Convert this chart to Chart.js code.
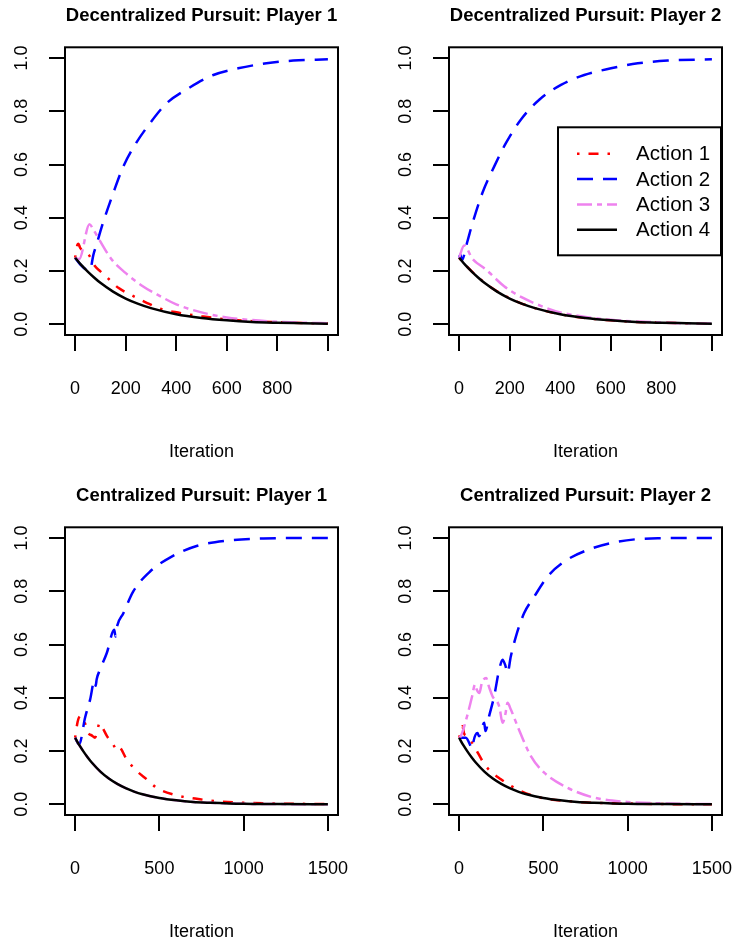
<!DOCTYPE html>
<html>
<head>
<meta charset="utf-8">
<script src="https://cdn.jsdelivr.net/npm/chart.js@4.4.0/dist/chart.umd.min.js"></script>
<style>
  body { margin: 0; background: #fff; width: 736px; height: 941px; position: relative; overflow: hidden; }
  canvas { position: absolute; }
</style>
</head>
<body>
<canvas id="dec1" width="352" height="461" style="left:0;top:0"></canvas>
<canvas id="dec2" width="352" height="461" style="left:384px;top:0"></canvas>
<canvas id="cen1" width="352" height="461" style="left:0;top:480px"></canvas>
<canvas id="cen2" width="352" height="461" style="left:384px;top:480px"></canvas>
<script>
const actionLabels = ["Action 1", "Action 2", "Action 3", "Action 4"];
const yTicks = [0, 0.2, 0.4, 0.6, 0.8, 1.0];
const yTickLabels = ["0.0", "0.2", "0.4", "0.6", "0.8", "1.0"];
const decTicks = [0, 200, 400, 600, 800, 1000];
const decTickLabels = ["0", "200", "400", "600", "800", ""];
const cenTicks = [0, 500, 1000, 1500];
const cenTickLabels = ["0", "500", "1000", "1500"];

// Decentralized pursuit, player 1
const dec1Iter1 = [0, 9, 13, 20, 35, 53, 79, 99, 132, 171, 224, 283, 336, 395, 500, 600, 700, 800, 900, 1000];
const dec1Act1 = [0.25, 0.298, 0.303, 0.287, 0.274, 0.262, 0.218, 0.2, 0.171, 0.137, 0.109, 0.081, 0.059, 0.046, 0.03, 0.019, 0.012, 0.008, 0.005, 0.003];
const dec1Iter2 = [0, 20, 45, 59, 72, 88, 105, 151, 191, 237, 296, 362, 448, 547, 645, 757, 863, 1000];
const dec1Act2 = [0.25, 0.225, 0.205, 0.203, 0.26, 0.31, 0.365, 0.493, 0.593, 0.674, 0.755, 0.83, 0.886, 0.936, 0.961, 0.98, 0.99, 0.995];
const dec1Iter3 = [0, 16, 57, 72, 99, 145, 198, 263, 336, 400, 500, 600, 700, 800, 900, 1000];
const dec1Act3 = [0.25, 0.245, 0.376, 0.356, 0.312, 0.243, 0.194, 0.146, 0.106, 0.075, 0.045, 0.026, 0.016, 0.01, 0.006, 0.004];
const decIter4 = [0, 25, 50, 75, 100, 150, 200, 250, 300, 400, 500, 600, 700, 800, 900, 1000];
const dec1Act4 = [0.25, 0.222, 0.198, 0.176, 0.156, 0.123, 0.097, 0.077, 0.061, 0.038, 0.024, 0.015, 0.009, 0.006, 0.004, 0.002];

// Decentralized pursuit, player 2
const dec2Act1 = [0.25, 0.223, 0.199, 0.177, 0.157, 0.124, 0.098, 0.077, 0.061, 0.038, 0.024, 0.015, 0.009, 0.006, 0.004, 0.002];
const dec2Iter2 = [0, 5, 10, 33, 50, 92, 139, 185, 244, 317, 403, 495, 601, 707, 826, 1000];
const dec2Act2 = [0.25, 0.262, 0.24, 0.312, 0.37, 0.493, 0.593, 0.68, 0.768, 0.843, 0.899, 0.936, 0.961, 0.98, 0.99, 0.995];
const dec2Iter3 = [0, 20, 53, 106, 178, 251, 344, 400, 500, 600, 700, 800, 900, 1000];
const dec2Act3 = [0.25, 0.296, 0.246, 0.206, 0.143, 0.1, 0.062, 0.045, 0.028, 0.017, 0.011, 0.007, 0.004, 0.003];
const dec2Act4 = [0.25, 0.222, 0.198, 0.176, 0.156, 0.123, 0.097, 0.077, 0.061, 0.038, 0.024, 0.015, 0.009, 0.006, 0.004, 0.002];

// Centralized pursuit, player 1
const cen1Iter1 = [0, 15, 30, 55, 79, 100, 118, 130, 145, 165, 190, 230, 245, 260, 306, 366, 425, 484, 583, 741, 840, 1000, 1200, 1500];
const cen1Act1 = [0.25, 0.31, 0.331, 0.31, 0.268, 0.258, 0.25, 0.272, 0.305, 0.285, 0.255, 0.22, 0.205, 0.215, 0.169, 0.125, 0.094, 0.062, 0.037, 0.019, 0.012, 0.006, 0.003, 0.001];
const cen1Iter2 = [0, 24, 59, 89, 115, 122, 128, 148, 188, 232, 240, 246, 287, 346, 445, 573, 721, 899, 1117, 1300, 1500];
const cen1Act2 = [0.25, 0.225, 0.325, 0.393, 0.465, 0.445, 0.47, 0.506, 0.568, 0.655, 0.63, 0.66, 0.718, 0.8, 0.874, 0.93, 0.97, 0.99, 0.998, 1.0, 1.0];
const cenIter4 = [0, 25, 50, 75, 100, 150, 200, 250, 300, 350, 400, 500, 600, 700, 800, 1000, 1200, 1500];
const cen1Act3 = [0.25, 0.222, 0.198, 0.176, 0.156, 0.123, 0.097, 0.077, 0.061, 0.048, 0.038, 0.024, 0.015, 0.009, 0.006, 0.002, 0.001, 0.0];
const cen1Act4 = [0.25, 0.222, 0.198, 0.176, 0.156, 0.123, 0.097, 0.077, 0.061, 0.048, 0.038, 0.024, 0.015, 0.009, 0.006, 0.002, 0.001, 0.0];

// Centralized pursuit, player 2
const cen2Iter1 = [0, 10, 20, 30, 50, 89, 158, 248, 367, 485, 644, 800, 1000, 1200, 1500];
const cen2Act1 = [0.25, 0.27, 0.293, 0.265, 0.256, 0.218, 0.144, 0.094, 0.05, 0.025, 0.012, 0.006, 0.003, 0.001, 0.0];
const cen2Iter2 = [0, 40, 80, 85, 109, 118, 149, 156, 178, 208, 238, 258, 275, 287, 307, 337, 386, 446, 525, 624, 763, 941, 1179, 1500];
const cen2Act2 = [0.25, 0.25, 0.21, 0.235, 0.268, 0.256, 0.306, 0.275, 0.331, 0.406, 0.506, 0.543, 0.52, 0.493, 0.556, 0.63, 0.718, 0.78, 0.855, 0.911, 0.955, 0.986, 0.999, 1.0];
const cen2Iter3 = [0, 10, 50, 75, 95, 105, 120, 135, 160, 178, 198, 238, 258, 275, 287, 307, 347, 426, 505, 644, 802, 1000, 1238, 1500];
const cen2Act3 = [0.25, 0.256, 0.337, 0.4, 0.45, 0.43, 0.418, 0.456, 0.474, 0.44, 0.406, 0.368, 0.306, 0.34, 0.381, 0.356, 0.293, 0.181, 0.119, 0.062, 0.025, 0.009, 0.003, 0.001];
const cen2Act4 = [0.25, 0.222, 0.198, 0.176, 0.156, 0.123, 0.097, 0.077, 0.061, 0.048, 0.038, 0.024, 0.015, 0.009, 0.006, 0.002, 0.001, 0.0];

const colors = ["#ff0000", "#0000ff", "#ee82ee", "#000000"];
const dashes = [[2.5, 9, 10, 9], [16, 10], [15, 5, 5, 5], []];
const FONT = "'Liberation Sans', Arial, Helvetica, sans-serif";

const pts = (xs, ys) => xs.map((x, i) => ({ x: x, y: ys[i] }));

// box round the plot region, like R's box()
const framePlugin = {
  id: "frame",
  afterDraw(chart) {
    const { ctx, chartArea: a } = chart;
    ctx.save();
    ctx.strokeStyle = "#000";
    ctx.lineWidth = 2;
    ctx.strokeRect(a.left, a.top, a.right - a.left, a.bottom - a.top);
    ctx.restore();
  }
};

// R style legend with line samples
const rLegend = {
  id: "rLegend",
  afterDraw(chart, args, opts) {
    if (!opts.show) return;
    const { ctx, chartArea: a } = chart;
    const w = 163, h = 128;
    const left = a.right - w - 1, top = a.top + 80;
    ctx.save();
    ctx.fillStyle = "#fff";
    ctx.fillRect(left, top, w, h);
    ctx.strokeStyle = "#000";
    ctx.lineWidth = 2;
    ctx.strokeRect(left, top, w, h);
    ctx.font = "20.5px " + FONT;
    ctx.textBaseline = "middle";
    ctx.textAlign = "left";
    chart.data.datasets.forEach((ds, i) => {
      const y = top + 26.5 + i * 25.3;
      ctx.beginPath();
      ctx.setLineDash(ds.borderDash);
      ctx.strokeStyle = ds.borderColor;
      ctx.lineWidth = 2.5;
      ctx.moveTo(left + 19, y);
      ctx.lineTo(left + 59, y);
      ctx.stroke();
      ctx.setLineDash([]);
      ctx.fillStyle = "#000";
      ctx.fillText(ds.label, left + 78, y + 1);
    });
    ctx.restore();
  }
};

function makePanel(id, title, series, xTicks, xLabels, xMax, showLegend) {
  const pad = xMax * 0.04;
  new Chart(document.getElementById(id), {
    type: "line",
    data: {
      datasets: series.map((s, i) => ({
        label: actionLabels[i],
        data: pts(s[0], s[1]),
        borderColor: colors[i],
        borderDash: dashes[i],
        borderWidth: 2.5,
        pointRadius: 0,
        fill: false,
        cubicInterpolationMode: "monotone",
        order: 4 - i
      }))
    },
    options: {
      responsive: false,
      animation: false,
      devicePixelRatio: 1,
      layout: { padding: { left: 0, right: 14, top: 0, bottom: 0 }, autoPadding: false },
      plugins: {
        legend: { display: false },
        tooltip: { enabled: false },
        title: {
          display: true,
          text: title,
          fullSize: false,
          color: "#000",
          font: { family: FONT, size: 18.5, weight: "bold" },
          padding: { top: 5, bottom: 20.1 }
        },
        rLegend: { show: showLegend }
      },
      scales: {
        x: {
          type: "linear",
          min: -pad,
          max: xMax + pad,
          afterBuildTicks: s => { s.ticks = xTicks.map(v => ({ value: v })); },
          afterFit: s => { s.height = 126; s.paddingLeft = 0; s.paddingRight = 0; },
          border: { display: false },
          grid: { display: true, drawOnChartArea: false, drawTicks: true, tickLength: 16, color: "#000", lineWidth: 2 },
          ticks: {
            autoSkip: false, maxRotation: 0, padding: 27, color: "#000",
            font: { family: FONT, size: 18 },
            callback: (v, i) => xLabels[i]
          },
          title: { display: true, text: "Iteration", color: "#000", font: { family: FONT, size: 18 }, padding: { top: 0, bottom: -2 } }
        },
        y: {
          type: "linear",
          min: -0.04,
          max: 1.04,
          afterBuildTicks: s => { s.ticks = yTicks.map(v => ({ value: v })); },
          afterFit: s => { s.width = 65; s.paddingTop = 0; s.paddingBottom = 0; },
          border: { display: false },
          grid: { display: true, drawOnChartArea: false, drawTicks: true, tickLength: 16, color: "#000", lineWidth: 2 },
          ticks: {
            minRotation: 90, maxRotation: 90, crossAlign: "center", padding: 14.5, color: "#000",
            font: { family: FONT, size: 18 },
            callback: (v, i) => yTickLabels[i]
          }
        }
      }
    },
    plugins: [framePlugin, rLegend]
  });
}

makePanel("dec1", "Decentralized Pursuit: Player 1",
  [[dec1Iter1, dec1Act1], [dec1Iter2, dec1Act2], [dec1Iter3, dec1Act3], [decIter4, dec1Act4]],
  decTicks, decTickLabels, 1000, false);
makePanel("dec2", "Decentralized Pursuit: Player 2",
  [[decIter4, dec2Act1], [dec2Iter2, dec2Act2], [dec2Iter3, dec2Act3], [decIter4, dec2Act4]],
  decTicks, decTickLabels, 1000, true);
makePanel("cen1", "Centralized Pursuit: Player 1",
  [[cen1Iter1, cen1Act1], [cen1Iter2, cen1Act2], [cenIter4, cen1Act3], [cenIter4, cen1Act4]],
  cenTicks, cenTickLabels, 1500, false);
makePanel("cen2", "Centralized Pursuit: Player 2",
  [[cen2Iter1, cen2Act1], [cen2Iter2, cen2Act2], [cen2Iter3, cen2Act3], [cenIter4, cen2Act4]],
  cenTicks, cenTickLabels, 1500, false);
</script>
</body>
</html>
